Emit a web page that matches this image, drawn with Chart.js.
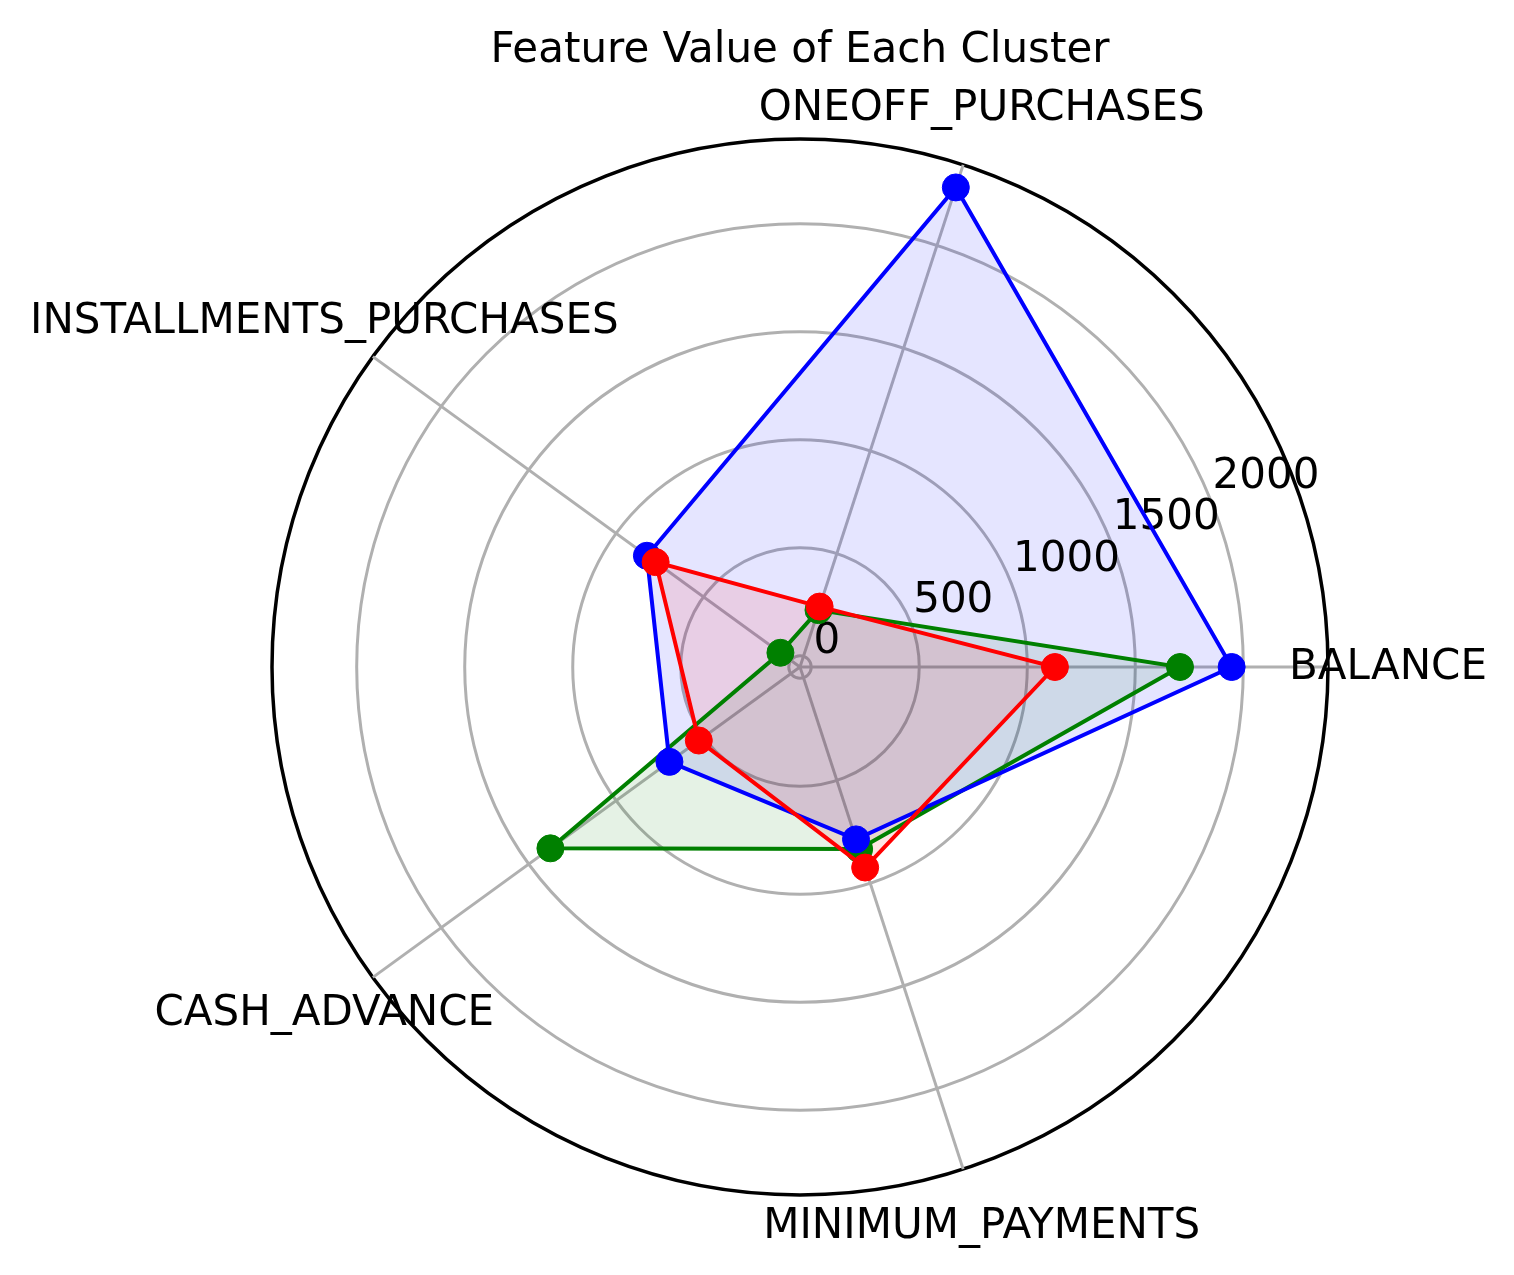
<!DOCTYPE html>
<html>
<head>
<meta charset="utf-8">
<script src="https://cdn.jsdelivr.net/npm/chart.js@4.4.1/dist/chart.umd.min.js"></script>
<style>
  html, body { margin: 0; padding: 0; background: #ffffff; }
  #wrap { width: 1514px; height: 1275px; position: relative; }
</style>
</head>
<body>
<div id="wrap"><canvas id="c"></canvas></div>
<script>
// ---- data ----
const title = "Feature Value of Each Cluster";
const categories = ["BALANCE", "ONEOFF_PURCHASES", "INSTALLMENTS_PURCHASES", "CASH_ADVANCE", "MINIMUM_PAYMENTS"];
const blueCluster  = [1946, 2282, 824, 695, 787];
const greenCluster = [1707, 225, 60, 1376, 834];
const redCluster   = [1128, 242, 774, 527, 924];
const tickValues = [0, 500, 1000, 1500, 2000];
const radialMin = -52;
const radialMax = 2392;

// Chart.js goes clockwise from the start angle; matplotlib goes counter-clockwise.
const order = [0, 4, 3, 2, 1];
const reorder = arr => order.map(i => arr[i]);

const FONT = "'DejaVu Sans', 'Liberation Sans', sans-serif";

const textPlugin = {
  id: 'textPlugin',
  beforeDatasetsDraw(chart) {
    const s = chart.scales.r;
    const ctx = chart.ctx;
    ctx.save();
    ctx.fillStyle = '#000000';
    ctx.font = '42px ' + FONT;
    ctx.textAlign = 'left';
    ctx.textBaseline = 'alphabetic';
    const a = 22.5 * Math.PI / 180;
    tickValues.forEach(v => {
      const d = s.getDistanceFromCenterForValue(v);
      const x = s.xCenter + d * Math.cos(a);
      const y = s.yCenter - d * Math.sin(a);
      ctx.fillText(String(v), x + 3, y - 9.5);
    });
    ctx.restore();
  },
  afterDraw(chart) {
    const s = chart.scales.r;
    const ctx = chart.ctx;
    ctx.save();
    ctx.fillStyle = '#000000';
    ctx.font = '42px ' + FONT;
    ctx.textAlign = 'center';
    ctx.textBaseline = 'alphabetic';
    const labels = chart.data.labels;
    labels.forEach((lab, i) => {
      const p = s.getPointPosition(i, s.drawingArea + 60);
      ctx.fillText(lab, p.x, p.y + 12);
    });
    ctx.fillText(title, s.xCenter, s.yCenter - s.drawingArea - 77);
    ctx.restore();
  }
};

function ds(label, values, color, fillColor, ord) {
  return {
    label: label,
    data: reorder(values),
    borderColor: color,
    backgroundColor: fillColor,
    borderWidth: 4,
    fill: 'start',
    tension: 0,
    pointRadius: 13.5,
    pointBorderWidth: 1,
    pointBackgroundColor: color,
    pointBorderColor: color,
    order: ord
  };
}

new Chart(document.getElementById('c'), {
  type: 'radar',
  data: {
    labels: reorder(categories),
    datasets: [
      ds('Cluster 0', blueCluster, '#0000ff', 'rgba(0,0,255,0.1)', 1),
      ds('Cluster 1', greenCluster, '#008000', 'rgba(0,128,0,0.1)', 2),
      ds('Cluster 2', redCluster, '#ff0000', 'rgba(255,0,0,0.1)', 0)
    ]
  },
  options: {
    responsive: true,
    maintainAspectRatio: false,
    animation: false,
    events: [],
    layout: { padding: { left: 272, right: 186, top: 139, bottom: 80 } },
    plugins: {
      legend: { display: false },
      tooltip: { enabled: false },
      title: { display: false },
      filler: { drawTime: 'beforeDatasetsDraw' }
    },
    scales: {
      r: {
        min: radialMin,
        max: radialMax,
        startAngle: 90,
        afterBuildTicks(scale) {
          scale.ticks = tickValues.concat([radialMax]).map(v => ({ value: v }));
        },
        ticks: { display: false },
        pointLabels: { display: false },
        grid: {
          circular: true,
          color: ctx => (ctx.tick && ctx.tick.value === radialMax) ? '#000000' : '#b0b0b0',
          lineWidth: ctx => (ctx.tick && ctx.tick.value === radialMax) ? 3.5 : 3
        },
        angleLines: { display: true, color: '#b0b0b0', lineWidth: 3 }
      }
    }
  },
  plugins: [textPlugin]
});
</script>
</body>
</html>
